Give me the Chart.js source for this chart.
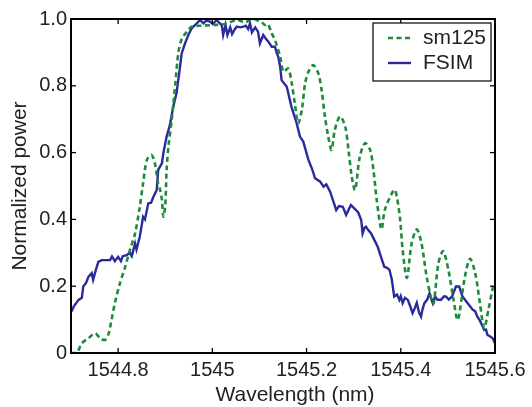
<!DOCTYPE html>
<html>
<head>
<meta charset="utf-8">
<script src="https://cdn.jsdelivr.net/npm/chart.js@4/dist/chart.umd.min.js"></script>
<style>
  html, body { margin: 0; padding: 0; background: #fff; }
  #wrap { width: 532px; height: 407px; }
</style>
</head>
<body>
<div id="wrap"><canvas id="c" width="532" height="407"></canvas></div>
<script>
// ---- data ----
const seriesNames = ['sm125', 'FSIM'];
const xTitle = 'Wavelength (nm)';
const yTitle = 'Normalized power';
const xTicks = [1544.8, 1545.0, 1545.2, 1545.4, 1545.6];
const xTickLabels = ['1544.8', '1545', '1545.2', '1545.4', '1545.6'];
const yTicks = [0, 0.2, 0.4, 0.6, 0.8, 1.0];
const yTickLabels = ['0', '0.2', '0.4', '0.6', '0.8', '1.0'];

const sm125X = [1544.700, 1544.712, 1544.723, 1544.737, 1544.751, 1544.762, 1544.772, 1544.779, 1544.786, 1544.793,
  1544.804, 1544.815, 1544.825, 1544.836, 1544.846, 1544.853, 1544.861, 1544.871, 1544.878, 1544.885,
  1544.889, 1544.893, 1544.896, 1544.900, 1544.903, 1544.907, 1544.914, 1544.921, 1544.928, 1544.935,
  1544.946, 1544.956, 1544.974, 1545.002, 1545.027, 1545.052, 1545.069, 1545.087, 1545.097, 1545.105,
  1545.112, 1545.118, 1545.126, 1545.133, 1545.144, 1545.151, 1545.161, 1545.168, 1545.175, 1545.182,
  1545.190, 1545.197, 1545.204, 1545.214, 1545.225, 1545.232, 1545.239, 1545.246, 1545.253, 1545.260,
  1545.271, 1545.282, 1545.289, 1545.296, 1545.303, 1545.313, 1545.324, 1545.335, 1545.342, 1545.349,
  1545.359, 1545.366, 1545.381, 1545.388, 1545.398, 1545.404, 1545.413, 1545.423, 1545.434, 1545.444,
  1545.455, 1545.466, 1545.470, 1545.480, 1545.490, 1545.501, 1545.512, 1545.521, 1545.536, 1545.547,
  1545.558, 1545.568, 1545.577, 1545.586, 1545.596, 1545.600];
const sm125Y = [0.000, 0.000, 0.029, 0.044, 0.059, 0.044, 0.039, 0.054, 0.099, 0.149,
  0.209, 0.258, 0.308, 0.358, 0.438, 0.508, 0.578, 0.593, 0.568, 0.508,
  0.490, 0.458, 0.408, 0.440, 0.550, 0.620, 0.700, 0.800, 0.900, 0.940,
  0.962, 0.977, 0.980, 0.982, 0.985, 0.997, 0.990, 1.000, 0.995, 0.990,
  0.982, 0.985, 0.957, 0.937, 0.887, 0.842, 0.852, 0.812, 0.748, 0.688,
  0.728, 0.808, 0.842, 0.862, 0.837, 0.787, 0.708, 0.648, 0.608, 0.668,
  0.708, 0.678, 0.608, 0.528, 0.488, 0.588, 0.628, 0.608, 0.548, 0.458,
  0.370, 0.428, 0.478, 0.488, 0.408, 0.308, 0.225, 0.328, 0.370, 0.328,
  0.228, 0.155, 0.149, 0.269, 0.305, 0.249, 0.159, 0.099, 0.228, 0.282,
  0.239, 0.149, 0.075, 0.129, 0.199, 0.210];

const fsimX = [1544.701, 1544.706, 1544.716, 1544.723, 1544.726, 1544.732, 1544.737, 1544.744, 1544.747, 1544.753,
  1544.758, 1544.765, 1544.774, 1544.783, 1544.787, 1544.793, 1544.800, 1544.806, 1544.810, 1544.818,
  1544.825, 1544.829, 1544.836, 1544.839, 1544.846, 1544.853, 1544.857, 1544.864, 1544.870, 1544.875,
  1544.882, 1544.885, 1544.893, 1544.896, 1544.903, 1544.910, 1544.917, 1544.924, 1544.931, 1544.935,
  1544.942, 1544.949, 1544.956, 1544.967, 1544.974, 1544.981, 1544.987, 1544.995, 1545.001, 1545.009,
  1545.014, 1545.020, 1545.023, 1545.028, 1545.032, 1545.038, 1545.042, 1545.048, 1545.052, 1545.059,
  1545.066, 1545.071, 1545.076, 1545.080, 1545.084, 1545.091, 1545.097, 1545.101, 1545.108, 1545.114,
  1545.119, 1545.126, 1545.133, 1545.137, 1545.140, 1545.144, 1545.147, 1545.158, 1545.168, 1545.179,
  1545.186, 1545.193, 1545.204, 1545.212, 1545.218, 1545.229, 1545.236, 1545.242, 1545.250, 1545.256,
  1545.263, 1545.269, 1545.277, 1545.284, 1545.294, 1545.305, 1545.310, 1545.316, 1545.319, 1545.323,
  1545.326, 1545.331, 1545.337, 1545.344, 1545.351, 1545.358, 1545.365, 1545.371, 1545.376, 1545.381,
  1545.386, 1545.392, 1545.397, 1545.400, 1545.404, 1545.409, 1545.415, 1545.420, 1545.425, 1545.430,
  1545.434, 1545.439, 1545.443, 1545.446, 1545.450, 1545.456, 1545.461, 1545.464, 1545.468, 1545.473,
  1545.477, 1545.485, 1545.492, 1545.496, 1545.502, 1545.509, 1545.517, 1545.524, 1545.531, 1545.536,
  1545.542, 1545.547, 1545.553, 1545.558, 1545.562, 1545.567, 1545.572, 1545.577, 1545.581, 1545.584,
  1545.589, 1545.595, 1545.600];
const fsimY = [0.124, 0.140, 0.159, 0.165, 0.199, 0.210, 0.228, 0.239, 0.219, 0.250,
  0.273, 0.278, 0.278, 0.278, 0.289, 0.275, 0.288, 0.275, 0.290, 0.293,
  0.300, 0.290, 0.328, 0.310, 0.348, 0.408, 0.400, 0.448, 0.450, 0.468,
  0.488, 0.548, 0.568, 0.598, 0.648, 0.683, 0.737, 0.778, 0.852, 0.897,
  0.927, 0.952, 0.972, 0.987, 0.997, 0.987, 0.995, 0.992, 0.985, 0.997,
  0.990, 0.982, 0.952, 0.982, 0.952, 0.975, 0.955, 0.970, 0.977, 0.975,
  0.977, 0.980, 0.970, 0.987, 0.960, 0.975, 0.962, 0.927, 0.952, 0.940,
  0.932, 0.917, 0.917, 0.897, 0.887, 0.857, 0.817, 0.797, 0.737, 0.688,
  0.648, 0.633, 0.578, 0.550, 0.523, 0.513, 0.498, 0.505, 0.483, 0.458,
  0.428, 0.440, 0.438, 0.413, 0.443, 0.428, 0.420, 0.398, 0.358, 0.375,
  0.378, 0.368, 0.358, 0.338, 0.318, 0.288, 0.258, 0.255, 0.249, 0.220,
  0.169, 0.175, 0.159, 0.170, 0.149, 0.165, 0.159, 0.140, 0.119, 0.135,
  0.150, 0.120, 0.109, 0.130, 0.149, 0.160, 0.179, 0.165, 0.149, 0.170,
  0.160, 0.159, 0.170, 0.169, 0.160, 0.170, 0.199, 0.199, 0.169, 0.160,
  0.149, 0.140, 0.129, 0.125, 0.110, 0.099, 0.085, 0.069, 0.070, 0.054,
  0.050, 0.044, 0.029];

// ---- styling ----
const GREEN = '#1e8a3c';
const BLUE = '#2a2a9e';
const FONT = "'Liberation Sans', Arial, Helvetica, sans-serif";
const TEXT = '#222';

const toPoints = (xs, ys) => xs.map((x, i) => ({ x: x, y: ys[i] }));

const framePlugin = {
  id: 'frame',
  afterDatasetsDraw(chart) {
    const ctx = chart.ctx;
    const a = chart.chartArea;
    const xs = chart.scales.x, ys = chart.scales.y;
    ctx.save();
    ctx.strokeStyle = '#000';
    ctx.lineWidth = 1.3;
    const seg = (x1, y1, x2, y2) => { ctx.beginPath(); ctx.moveTo(x1, y1); ctx.lineTo(x2, y2); ctx.stroke(); };
    const TL = 5;
    xTicks.forEach(v => {
      const px = xs.getPixelForValue(v);
      seg(px, a.bottom, px, a.bottom - TL);
      seg(px, a.top, px, a.top + TL);
    });
    yTicks.forEach(v => {
      const py = ys.getPixelForValue(v);
      seg(a.left, py, a.left + TL, py);
      seg(a.right, py, a.right - TL, py);
    });
    ctx.lineWidth = 2;
    ctx.strokeRect(a.left, a.top, a.right - a.left, a.bottom - a.top);

    // x axis title (offset to the right as in the reference)
    ctx.fillStyle = TEXT;
    ctx.font = '21px ' + FONT;
    ctx.textAlign = 'center';
    ctx.textBaseline = 'middle';
    ctx.fillText(xTitle, (a.left + a.right) / 2 + 12, a.bottom + 42);

    // legend
    const bw = 118, bh = 58;
    const bx = a.right - 4 - bw, by = a.top + 4;
    ctx.fillStyle = '#fff';
    ctx.fillRect(bx, by, bw, bh);
    ctx.lineWidth = 1.2;
    ctx.strokeStyle = '#000';
    ctx.strokeRect(bx, by, bw, bh);
    const ds = chart.data.datasets;
    const rows = [by + 15, by + 40];
    ds.forEach((d, i) => {
      ctx.save();
      ctx.strokeStyle = d.borderColor;
      ctx.lineWidth = d.borderWidth;
      ctx.setLineDash(d.borderDash || []);
      seg(bx + 15, rows[i], bx + 38, rows[i]);
      ctx.restore();
      ctx.fillStyle = TEXT;
      ctx.font = '21px ' + FONT;
      ctx.textBaseline = 'middle';
      ctx.textAlign = 'left';
      ctx.fillText(d.label, bx + 50, rows[i]);
    });
    ctx.restore();
  }
};

new Chart(document.getElementById('c'), {
  type: 'line',
  data: {
    datasets: [
      {
        label: seriesNames[0],
        data: toPoints(sm125X, sm125Y),
        borderColor: GREEN,
        borderWidth: 2.6,
        borderDash: [5, 3.5],
        pointRadius: 0,
        fill: false,
        tension: 0.3
      },
      {
        label: seriesNames[1],
        data: toPoints(fsimX, fsimY),
        borderColor: BLUE,
        borderWidth: 2.4,
        pointRadius: 0,
        fill: false,
        tension: 0
      }
    ]
  },
  options: {
    responsive: false,
    animation: false,
    events: [],
    layout: { padding: { left: 0, top: 19, right: 37, bottom: 0 } },
    plugins: { legend: { display: false }, tooltip: { enabled: false } },
    scales: {
      x: {
        type: 'linear',
        min: 1544.7,
        max: 1545.6,
        grid: { display: false, drawTicks: false },
        border: { display: false },
        afterBuildTicks: s => { s.ticks = xTicks.map(v => ({ value: v })); },
        afterFit: s => { s.height = 54; },
        ticks: {
          autoSkip: false,
          maxRotation: 0,
          padding: 5,
          color: TEXT,
          font: { family: FONT, size: 20 },
          callback: (v) => { const i = xTicks.findIndex(t => Math.abs(t - v) < 1e-6); return i >= 0 ? xTickLabels[i] : ''; }
        },
        title: { display: false }
      },
      y: {
        type: 'linear',
        min: 0,
        max: 1,
        grid: { display: false, drawTicks: false },
        border: { display: false },
        afterBuildTicks: s => { s.ticks = yTicks.map(v => ({ value: v })); },
        afterFit: s => { s.width = 71; },
        ticks: {
          autoSkip: false,
          padding: 4,
          color: TEXT,
          font: { family: FONT, size: 20 },
          callback: (v) => { const i = yTicks.findIndex(t => Math.abs(t - v) < 1e-6); return i >= 0 ? yTickLabels[i] : ''; }
        },
        title: {
          display: true,
          text: yTitle,
          color: TEXT,
          font: { family: FONT, size: 21 },
          padding: { top: 8, bottom: 0 }
        }
      }
    }
  },
  plugins: [framePlugin]
});
</script>
</body>
</html>
